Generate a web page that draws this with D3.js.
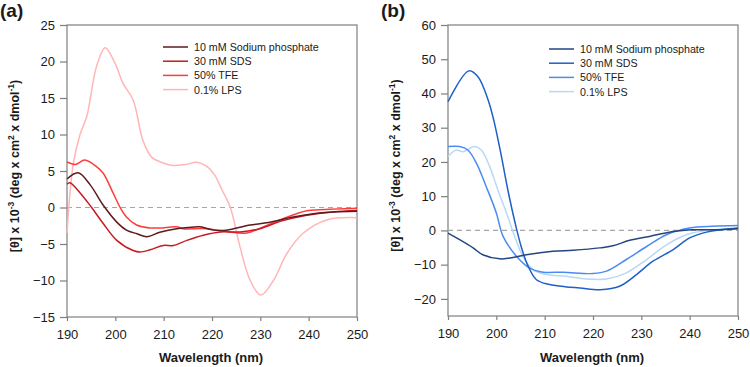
<!DOCTYPE html>
<html>
<head>
<meta charset="utf-8">
<script src="https://cdn.jsdelivr.net/npm/d3@7"></script>
<style>
  body { margin: 0; background: #fff; }
  text { font-family: "Liberation Sans", Arial, sans-serif; fill: #1a1a1a; }
</style>
</head>
<body>
<script>
var width = 750, height = 367;

var seriesNames = ["10 mM Sodium phosphate", "30 mM SDS", "50% TFE", "0.1% LPS"];
var xTicks = [190, 200, 210, 220, 230, 240, 250];
var yTicksA = [-15, -10, -5, 0, 5, 10, 15, 20, 25];
var yTicksB = [-20, -10, 0, 10, 20, 30, 40, 50, 60];

// panel (a) - wavelengths and ellipticity (x10^-3)
var aNaPw = [190, 192.3, 194.8, 197.5, 200.3, 202.3, 204.5, 206.5, 209.2, 212.7, 215, 217.5, 220.3, 223, 227.9, 231.3, 236.8, 241.7, 245, 250];
var aNaPv = [3.9, 4.75, 3.1, 0.3, -2.0, -3.1, -3.6, -4.0, -3.4, -2.9, -2.75, -2.65, -3.1, -3.1, -2.4, -2.1, -1.3, -0.8, -0.6, -0.5];
var aSDSw = [190, 190.6, 193.4, 195.1, 197.5, 200.3, 203.7, 205.1, 207.2, 209.9, 212, 214.8, 218.2, 221.7, 225.8, 229.9, 234.1, 239.6, 245.1, 250];
var aSDSv = [3.2, 3.4, 1.45, 0, -2.2, -4.5, -5.9, -6.1, -5.8, -5.2, -5.2, -4.5, -3.8, -3.35, -3.35, -2.9, -1.9, -1.06, -0.6, -0.4];
var aTFEw = [190, 191.7, 193.7, 196.1, 197.5, 199.6, 201, 202.3, 204.4, 207.2, 209.2, 212.7, 214, 218.9, 223, 227.2, 230.6, 234.8, 239.6, 242.3, 250];
var aTFEv = [6.25, 5.9, 6.5, 5.6, 4.7, 1.9, 0, -1.3, -2.4, -2.8, -2.8, -2.65, -2.9, -2.9, -3.3, -3.5, -2.65, -1.5, -0.45, -0.3, -0.1];
var aLPSw = [190, 191.3, 192.7, 194.1, 196.1, 197.9, 199.9, 201.6, 203.7, 205.7, 207.5, 209.9, 212, 214.5, 216.9, 219, 220.5, 222, 223.8, 225.8, 227.9, 230.1, 232.7, 235.5, 238.9, 243.7, 250];
var aLPSv = [-3.5, 6, 10, 12.5, 19.3, 21.9, 19.8, 17.0, 14.7, 9.2, 6.9, 6.1, 5.75, 5.9, 6.2, 5.6, 4.5, 2.5, 0, -5.4, -10, -12, -10, -6.3, -3.5, -1.7, -1.4];

// panel (b)
var bNaPw = [190, 192.4, 195.2, 197.2, 200.7, 202.8, 206.2, 211.7, 215.9, 221.4, 224.1, 227.6, 231.7, 236.6, 240.7, 244.8, 250];
var bNaPv = [-0.8, -2.7, -5.1, -7.1, -8.3, -8.05, -7.1, -6.1, -5.8, -5.1, -4.5, -2.9, -1.75, -0.3, 0.2, 0.2, 0.5];
var bSDSw = [190, 194.3, 196.2, 198.3, 199.5, 201, 202.5, 204, 205.2, 206.5, 208.3, 211, 214.5, 217.3, 221.5, 225.5, 229, 232.4, 236.6, 240, 243.5, 250];
var bSDSv = [37.6, 46.6, 44.9, 38.1, 32, 22, 11, 1.5, -5, -10.2, -14.4, -15.8, -16.5, -16.8, -17.3, -16.3, -12.9, -9.0, -5.6, -2.2, -0.5, 0.7];
var bTFEw = [190, 192.4, 194.1, 195.9, 197.9, 200, 201.4, 204.2, 206.9, 209.7, 213.8, 220, 222.8, 226.9, 231.1, 235.2, 240, 244.8, 250];
var bTFEv = [24.5, 24.5, 23.5, 19.6, 12.8, 5.1, -1.75, -7.6, -11.0, -12.2, -12.2, -12.6, -11.9, -8.5, -4.7, -1.25, 0.7, 1.2, 1.4];
var bLPSw = [190, 191.7, 193.1, 195.5, 196.9, 198.6, 200.3, 202.1, 203.8, 205.5, 207.6, 210.4, 214.5, 218.6, 222.8, 226.9, 231.1, 235.2, 239.3, 243.5, 250];
var bLPSv = [21.6, 23.5, 23.0, 24.5, 23.5, 18.7, 11.9, 5.1, -1.75, -7.6, -11.5, -12.9, -13.4, -14.2, -14.2, -12.4, -8.5, -4.2, -1.25, 0, 0.4];

var colorsA = ["#5e1a1e", "#c81a22", "#ff3c3c", "#ffb6b6"];
var colorsB = ["#24467f", "#1f5fc8", "#4a8cf0", "#b8d8f8"];

var svg = d3.select("body").append("svg")
    .attr("width", width)
    .attr("height", height);

function zip(ws, vs) {
    return ws.map(function(w, i) { return [w, vs[i]]; });
}

function drawPanel(opt) {
    var x = d3.scaleLinear().domain([190, 250]).range([opt.left, opt.right]);
    var y = d3.scaleLinear().domain(opt.yDomain).range([opt.bottom, opt.top]);
    var g = svg.append("g");

    // frame
    g.append("rect")
        .attr("x", opt.left).attr("y", opt.top)
        .attr("width", opt.right - opt.left).attr("height", opt.bottom - opt.top)
        .attr("fill", "none").attr("stroke", "#7f7f7f").attr("stroke-width", 1.2);

    // zero line
    g.append("line")
        .attr("x1", opt.left).attr("x2", opt.right)
        .attr("y1", y(0)).attr("y2", y(0))
        .attr("stroke", "#a6a6a6").attr("stroke-width", 1.2)
        .attr("stroke-dasharray", "5,4");

    var yAxis = g.append("g")
        .attr("transform", "translate(" + opt.left + ",0)")
        .call(d3.axisLeft(y).tickValues(opt.yTicks).tickSize(7).tickPadding(5).tickFormat(d3.format("d")));
    var xAxis = g.append("g")
        .attr("transform", "translate(0," + opt.bottom + ")")
        .call(d3.axisBottom(x).tickValues(xTicks).tickSize(4).tickPadding(9).tickFormat(d3.format("d")));
    [yAxis, xAxis].forEach(function(a) {
        a.select(".domain").remove();
        a.selectAll(".tick line").attr("stroke", "#7f7f7f").attr("stroke-width", 1.2);
        a.selectAll(".tick text")
            .attr("font-size", "13px")
            .attr("font-family", "Liberation Sans, Arial, sans-serif")
            .attr("fill", "#1a1a1a");
    });

    // curves
    var line = d3.line()
        .x(function(d) { return x(d[0]); })
        .y(function(d) { return y(d[1]); })
        .curve(d3.curveCatmullRom.alpha(0.5));

    // draw light ones first so the dark ones sit on top
    [3, 2, 1, 0].forEach(function(i) {
        g.append("path")
            .datum(opt.series[i])
            .attr("d", line)
            .attr("fill", "none")
            .attr("stroke", opt.colors[i])
            .attr("stroke-width", 1.5);
    });

    // legend
    seriesNames.forEach(function(name, i) {
        var ly = opt.legY + i * opt.legStep;
        g.append("line")
            .attr("x1", opt.legX).attr("x2", opt.legX + 25)
            .attr("y1", ly).attr("y2", ly)
            .attr("stroke", opt.colors[i]).attr("stroke-width", 1.5);
        g.append("text")
            .attr("x", opt.legX + 31).attr("y", ly + 4)
            .attr("font-size", "10.7px")
            .text(name);
    });

    // x title
    g.append("text")
        .attr("x", (opt.left + opt.right) / 2 - 1).attr("y", 362)
        .attr("text-anchor", "middle")
        .attr("font-size", "13px").attr("font-weight", "bold")
        .text("Wavelength (nm)");

    // y title
    var yt = g.append("text")
        .attr("transform", "translate(" + (opt.left - 48) + "," + ((opt.top + opt.bottom) / 2 - 5) + ") rotate(-90)")
        .attr("text-anchor", "middle")
        .attr("font-size", "12.5px").attr("font-weight", "bold");
    yt.append("tspan").text("[θ] x 10");
    yt.append("tspan").attr("dy", -5).attr("font-size", "8.5px").text("-3");
    yt.append("tspan").attr("dy", 5).text(" (deg x cm");
    yt.append("tspan").attr("dy", -5).attr("font-size", "8.5px").text("2");
    yt.append("tspan").attr("dy", 5).text(" x dmol");
    yt.append("tspan").attr("dy", -5).attr("font-size", "8.5px").text("-1");
    yt.append("tspan").attr("dy", 5).text(")");

    // panel label
    g.append("text")
        .attr("x", opt.labelX).attr("y", 17)
        .attr("font-size", "19px").attr("font-weight", "bold")
        .text(opt.label);
}

drawPanel({
    left: 67, right: 357, top: 25, bottom: 317,
    yDomain: [-15, 25], yTicks: yTicksA,
    series: [zip(aNaPw, aNaPv), zip(aSDSw, aSDSv), zip(aTFEw, aTFEv), zip(aLPSw, aLPSv)],
    colors: colorsA,
    legX: 163, legY: 47, legStep: 14.2,
    label: "(a)", labelX: 0
});

drawPanel({
    left: 448, right: 738, top: 25, bottom: 316,
    yDomain: [-25, 60], yTicks: yTicksB,
    series: [zip(bNaPw, bNaPv), zip(bSDSw, bSDSv), zip(bTFEw, bTFEv), zip(bLPSw, bLPSv)],
    colors: colorsB,
    legX: 549, legY: 49, legStep: 14.2,
    label: "(b)", labelX: 381
});
</script>
</body>
</html>
